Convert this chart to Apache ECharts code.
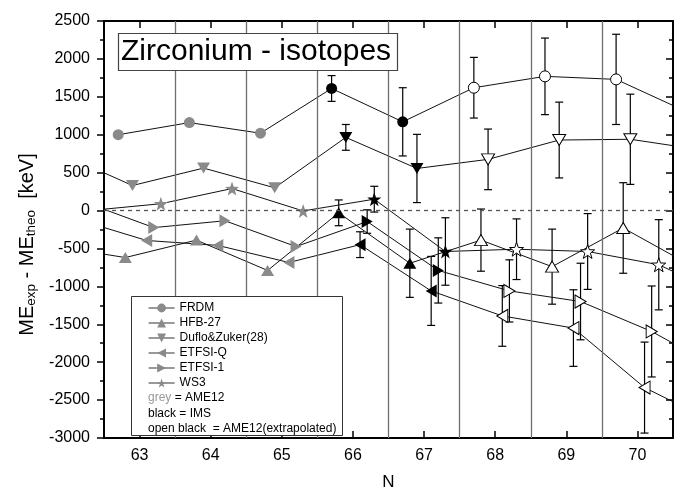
<!DOCTYPE html>
<html>
<head>
<meta charset="utf-8">
<script src="https://cdn.jsdelivr.net/npm/echarts@6/dist/echarts.min.js"></script>
<style>html,body{margin:0;padding:0;background:#fff}#c{width:683px;height:492px}</style>
</head>
<body>
<div id="c"></div>
<script>
// ---- data ----
const xTicks = [63, 64, 65, 66, 67, 68, 69, 70];
const yMin = -3000, yMax = 2500, yStep = 500;
const cellEdges = [63.5, 64.5, 65.5, 66.5, 67.5, 68.5, 69.5];

// neutron numbers per model
const nFRDM = [63, 64, 65, 66, 67, 68, 69, 70, 71];
const nOther = [62, 63, 64, 65, 66, 67, 68, 69, 70, 71];

// ME_exp - ME_theo (keV)
const frdm   = [1000, 1160, 1020, 1610, 1170, 1620, 1770, 1730, 1300];
const hfb27  = [-470, -620, -390, -790, -30, -695, -390, -740, -230, -750];
const duflo  = [750, 330, 560, 300, 965, 555, 675, 930, 940, 800];
const etfsiQ = [-110, -395, -460, -685, -450, -1060, -1390, -1550, -2335, -2800];
const etfsi1 = [120, -225, -135, -475, -145, -790, -1060, -1200, -1595, -2110];
const ws3    = [0, 90, 290, -5, 150, -540, -510, -540, -715, -1150];

// uncertainties (keV)
const frdmErr   = [0, 0, 0, 170, 450, 400, 505, 595, 0];
const hfb27Err  = [0, 0, 0, 0, 170, 450, 410, 495, 597, 0];
const dufloErr  = [0, 0, 0, 0, 170, 450, 400, 500, 595, 0];
const etfsiQErr = [0, 0, 0, 0, 170, 455, 400, 505, 600, 0];
const etfsi1Err = [0, 0, 0, 0, 155, 430, 410, 505, 600, 0];
const ws3Err    = [0, 0, 0, 0, 170, 445, 400, 500, 595, 0];

// source: g = grey (AME12), b = black (IMS), o = open black (AME12 extrapolated)
const srcFRDM  = ['g','g','g','b','b','o','o','o','o'];
const srcOther = ['g','g','g','g','b','b','o','o','o','o'];

// ---- styling ----
const FONT = "'Liberation Sans', Arial, Helvetica, sans-serif";
const GREY = '#8a8a8a';
const SYM = {
  circle: 'circle',
  up: 'triangle',
  down: 'path://M0,0L10,0L5,9Z',
  left: 'path://M9,0L9,10L0,5Z',
  right: 'path://M0,0L9,5L0,10Z',
  star: 'path://M10,0L12.35,6.76L19.51,6.91L13.8,11.24L15.88,18.09L10,14L4.12,18.09L6.2,11.24L0.49,6.91L7.65,6.76Z'
};

const models = [
  { name: 'FRDM', n: nFRDM, off: -0.3, v: frdm, e: frdmErr, s: srcFRDM, sym: SYM.circle, size: 11 },
  { name: 'HFB-27', n: nOther, off: -0.2, v: hfb27, e: hfb27Err, s: srcOther, sym: SYM.up, size: [13, 11] },
  { name: 'Duflo&Zuker(28)', n: nOther, off: -0.1, v: duflo, e: dufloErr, s: srcOther, sym: SYM.down, size: [13, 11] },
  { name: 'ETFSI-Q', n: nOther, off: 0.1, v: etfsiQ, e: etfsiQErr, s: srcOther, sym: SYM.left, size: [11, 13] },
  { name: 'ETFSI-1', n: nOther, off: 0.2, v: etfsi1, e: etfsi1Err, s: srcOther, sym: SYM.right, size: [11, 13] },
  { name: 'WS3', n: nOther, off: 0.3, v: ws3, e: ws3Err, s: srcOther, sym: SYM.star, size: 14 }
];

function pointStyle(src) {
  if (src === 'g') return { color: GREY, borderWidth: 0 };
  if (src === 'b') return { color: '#000', borderWidth: 0 };
  return { color: '#fff', borderColor: '#000', borderWidth: 1 };
}

const series = [];
// background reference lines
series.push({
  type: 'line', data: [], z: 0, silent: true, xAxisIndex: 0, yAxisIndex: 0,
  markLine: {
    silent: true, symbol: 'none', label: { show: false }, animation: false,
    lineStyle: { color: '#6e6e6e', width: 1.3, type: 'solid' },
    emphasis: { disabled: true },
    data: cellEdges.map(x => ({ xAxis: x }))
  }
});
series.push({
  type: 'line', data: [], z: 0, silent: true, xAxisIndex: 0, yAxisIndex: 0,
  markLine: {
    silent: true, symbol: 'none', label: { show: false }, animation: false,
    lineStyle: { color: '#555', width: 1.3, type: [4, 4] },
    emphasis: { disabled: true },
    data: [{ yAxis: 0 }]
  }
});

models.forEach(m => {
  const pts = m.n.map((n, i) => ({
    value: [n + m.off, m.v[i]],
    itemStyle: pointStyle(m.s[i])
  }));
  series.push({
    name: m.name, type: 'line', data: pts, z: 3,
    symbol: m.sym, symbolSize: m.size, showSymbol: true, showAllSymbol: true,
    lineStyle: { color: '#111', width: 1 },
    itemStyle: { color: GREY },
    emphasis: { disabled: true }, animation: false, clip: true
  });
  const errData = m.n.map((n, i) => [n + m.off, m.v[i], m.e[i]]).filter(d => d[2] > 0);
  series.push({
    type: 'custom', data: errData, z: 2, clip: true, silent: true, animation: false,
    renderItem: function (params, api) {
      const x = api.value(0), y = api.value(1), e = api.value(2);
      const t = api.coord([x, y + e]);
      const b = api.coord([x, y - e]);
      const w = 4;
      const st = { stroke: '#000', lineWidth: 1.2 };
      return {
        type: 'group',
        children: [
          { type: 'line', shape: { x1: t[0], y1: t[1], x2: b[0], y2: b[1] }, style: st },
          { type: 'line', shape: { x1: t[0] - w, y1: t[1], x2: t[0] + w, y2: t[1] }, style: st },
          { type: 'line', shape: { x1: b[0] - w, y1: b[1], x2: b[0] + w, y2: b[1] }, style: st }
        ]
      };
    }
  });
});

const chart = echarts.init(document.getElementById('c'), null, { renderer: 'canvas' });
chart.setOption({
  animation: false,
  backgroundColor: '#fff',
  textStyle: { fontFamily: FONT },
  title: {
    text: 'Zirconium - isotopes',
    left: 118, top: 33, z: 20,
    padding: [4, 7, 4, 3],
    borderColor: '#444', borderWidth: 1.2,
    backgroundColor: '#fff',
    textStyle: { fontFamily: FONT, fontSize: 30, fontWeight: 'normal', color: '#000', lineHeight: 30 }
  },
  legend: {
    orient: 'vertical', left: 148, top: 302, z: 30,
    itemWidth: 26, itemHeight: 11, itemGap: 3,
    padding: 0,
    selectedMode: false,
    textStyle: { fontFamily: FONT, fontSize: 12, color: '#000' },
    data: models.map(m => ({
      name: m.name,
      itemStyle: { color: GREY, borderWidth: 0 },
      lineStyle: { color: '#555', width: 1.2 }
    }))
  },
  graphic: [
    { type: 'rect', left: 131, top: 296, z: 10,
      shape: { width: 211, height: 139 },
      style: { fill: '#fff', stroke: '#333', lineWidth: 1 } },
    { type: 'text', left: 148, top: 392, z: 30,
      style: { text: '{g|grey} = AME12', font: '12px ' + FONT, fill: '#000',
        rich: { g: { fill: '#999', fontFamily: FONT, fontSize: 12 } } } },
    { type: 'text', left: 148, top: 407.5, z: 30,
      style: { text: 'black = IMS', font: '12px ' + FONT, fill: '#000' } },
    { type: 'text', left: 148, top: 422.5, z: 30,
      style: { text: 'open black  = AME12(extrapolated)', font: '12px ' + FONT, fill: '#000' } }
  ],
  grid: { left: 104, right: 10, top: 21, bottom: 54, containLabel: false, outerBoundsMode: 'none' },
  xAxis: [
    {
      type: 'value', position: 'bottom', min: 62.5, max: 70.5,
      name: 'N', nameLocation: 'middle', nameGap: 36,
      nameTextStyle: { fontFamily: FONT, fontSize: 17, color: '#000' },
      axisLine: { show: true, onZero: false, lineStyle: { color: '#000', width: 2 } },
      axisTick: { show: true, inside: true, length: 7, customValues: xTicks, lineStyle: { color: '#000', width: 1.5 } },
      axisLabel: { show: true, customValues: xTicks, margin: 10, fontFamily: FONT, fontSize: 16, color: '#000' },
      splitLine: { show: false }
    },
    {
      type: 'value', position: 'top', min: 62.5, max: 70.5,
      axisLine: { show: true, onZero: false, lineStyle: { color: '#000', width: 2 } },
      axisTick: { show: true, inside: true, length: 7, customValues: xTicks, lineStyle: { color: '#000', width: 1.5 } },
      axisLabel: { show: false },
      splitLine: { show: false }
    }
  ],
  yAxis: [
    {
      type: 'value', position: 'left', min: yMin, max: yMax, interval: yStep,
      name: '{m|ME}{s|exp}{m| - ME}{s|theo}{m|  [keV]}',
      nameLocation: 'middle', nameGap: 60,
      nameTextStyle: {
        padding: [0, 30, 0, 0],
        rich: {
          m: { fontFamily: FONT, fontSize: 20, color: '#000', lineHeight: 22 },
          s: { fontFamily: FONT, fontSize: 13.5, color: '#000', lineHeight: 4, verticalAlign: 'bottom' }
        }
      },
      axisLine: { show: true, onZero: false, lineStyle: { color: '#000', width: 2 } },
      axisTick: { show: true, inside: false, length: 7, lineStyle: { color: '#000', width: 1.5 } },
      minorTick: { show: true, splitNumber: 2, length: 4, lineStyle: { color: '#000', width: 1.5 } },
      axisLabel: { margin: 14, fontFamily: FONT, fontSize: 16, color: '#000', formatter: v => String(v) },
      splitLine: { show: false }, minorSplitLine: { show: false }
    },
    {
      type: 'value', position: 'right', min: yMin, max: yMax, interval: yStep,
      axisLine: { show: true, onZero: false, lineStyle: { color: '#000', width: 2 } },
      axisTick: { show: true, inside: true, length: 7, lineStyle: { color: '#000', width: 1.5 } },
      minorTick: { show: true, splitNumber: 2, length: 4, lineStyle: { color: '#000', width: 1.5 } },
      axisLabel: { show: false },
      splitLine: { show: false }, minorSplitLine: { show: false }
    }
  ],
  series: series
});
</script>
</body>
</html>
